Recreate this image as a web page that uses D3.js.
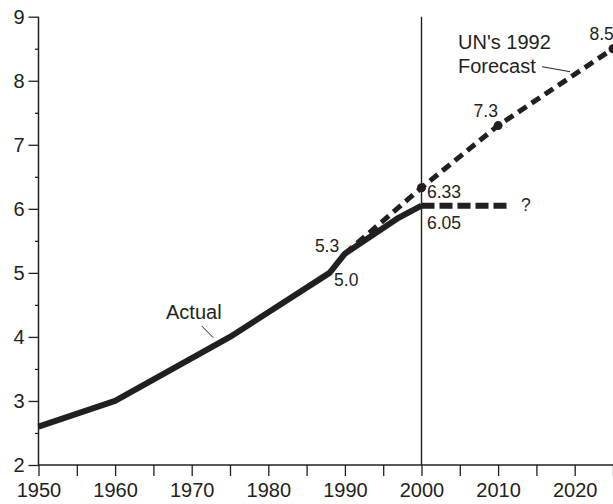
<!DOCTYPE html>
<html>
<head>
<meta charset="utf-8">
<script src="https://cdn.jsdelivr.net/npm/d3@7"></script>
<style>
html,body{margin:0;padding:0;background:#fff;}
svg{display:block;}
text{font-family:"Liberation Sans",Arial,Helvetica,sans-serif;fill:#231f20;}
</style>
</head>
<body>
<svg id="chart" width="613" height="504"></svg>
<script>
// ---- data ----
const actualYears = [1950, 1960, 1975, 1988, 1990, 1997, 2000];
const actualValues = [2.6, 3.0, 4.0, 5.0, 5.3, 5.86, 6.05];
const forecastYears = [1990, 2000, 2010, 2025];
const forecastValues = [5.3, 6.33, 7.3, 8.5];
const forecastDotYears = [2000, 2010, 2025];
const forecastDotValues = [6.33, 7.3, 8.5];
const questionYears = [2000, 2011.7];
const questionValues = [6.05, 6.05];
const xTickValues = [1950,1955,1960,1965,1970,1975,1980,1985,1990,1995,2000,2005,2010,2015,2020,2025];
const xTickLabels = ["1950","","1960","","1970","","1980","","1990","","2000","","2010","","2020",""];
const yMajorTicks = [2,3,4,5,6,7,8,9];
const yMinorTicks = [2.5,3.5,4.5,5.5,6.5,7.5,8.5];
const pointLabelText = ["8.5","7.3","6.33","6.05","5.3","5.0"];
const pointLabelYears = [2025, 2010, 2000, 2000, 1990, 1988];
const pointLabelValues = [8.5, 7.3, 6.33, 6.05, 5.3, 5.0];

// ---- layout ----
const svg = d3.select("#chart");
const ink = "#231f20";
const x = d3.scaleLinear().domain([1950, 2025]).range([38.5, 613]);
const y = d3.scaleLinear().domain([2, 9]).range([465, 16.7]);

// vertical reference line at 2000
svg.append("line")
  .attr("x1", x(2000)).attr("x2", x(2000))
  .attr("y1", y(9)).attr("y2", y(2))
  .attr("stroke", ink).attr("stroke-width", 1.4);

// x axis
const xAxis = d3.axisBottom(x).tickValues(xTickValues)
  .tickFormat((d,i) => xTickLabels[i]).tickSize(11).tickPadding(7);
const gx = svg.append("g").attr("transform", `translate(0,${y(2)})`).call(xAxis);
gx.select(".domain").attr("stroke", ink).attr("stroke-width", 1.5).attr("d", `M${x(1950)},0H613`);
gx.selectAll(".tick line").attr("stroke", ink).attr("stroke-width", 1.3);
gx.selectAll(".tick text").attr("font-size", 20).attr("fill", ink)
  .style("font-family", "'Liberation Sans',Arial,sans-serif");

// y axis major
const yAxis = d3.axisLeft(y).tickValues(yMajorTicks).tickFormat(d3.format("d"))
  .tickSize(10).tickPadding(4);
const gy = svg.append("g").attr("transform", `translate(${x(1950)},0)`).call(yAxis);
gy.select(".domain").attr("stroke", ink).attr("stroke-width", 1.5).attr("d", `M0,${y(2)}V${y(9)}`);
gy.selectAll(".tick line").attr("stroke", ink).attr("stroke-width", 1.3);
gy.selectAll(".tick text").attr("font-size", 20).attr("fill", ink)
  .style("font-family", "'Liberation Sans',Arial,sans-serif");
// y axis minor
const gym = svg.append("g").attr("transform", `translate(${x(1950)},0)`)
  .call(d3.axisLeft(y).tickValues(yMinorTicks).tickFormat("").tickSize(3.5));
gym.select(".domain").remove();
gym.selectAll(".tick line").attr("stroke", ink).attr("stroke-width", 1.3);

const line = d3.line().x(d => x(d[0])).y(d => y(d[1]));

// forecast dashed line (drawn under actual)
svg.append("path")
  .datum(forecastYears.map((yr,i) => [yr, forecastValues[i]]))
  .attr("d", line).attr("fill", "none").attr("stroke", ink)
  .attr("stroke-width", 5).attr("stroke-dasharray", "10,6");

// question dashed line
svg.append("path")
  .datum(questionYears.map((yr,i) => [yr, questionValues[i]]))
  .attr("d", line).attr("fill", "none").attr("stroke", ink)
  .attr("stroke-width", 6).attr("stroke-dasharray", "13,5");

// actual line
svg.append("path")
  .datum(actualYears.map((yr,i) => [yr, actualValues[i]]))
  .attr("d", line).attr("fill", "none").attr("stroke", ink)
  .attr("stroke-width", 6).attr("stroke-linejoin", "round");

// forecast dots
svg.selectAll("circle.fd")
  .data(forecastDotYears.map((yr,i) => [yr, forecastDotValues[i]]))
  .join("circle").attr("class","fd")
  .attr("cx", d => x(d[0])).attr("cy", d => y(d[1])).attr("r", 4.5).attr("fill", ink);

// point labels (offsets in px)
const labelOffsets = [[-23.5,-8.7],[-24.5,-8.6],[5.5,10.5],[5.5,23.5],[-30,-1.7],[4.5,13.5]];
svg.selectAll("text.pl")
  .data(pointLabelText.map((t,i) => ({t, yr: pointLabelYears[i], v: pointLabelValues[i], o: labelOffsets[i]})))
  .join("text").attr("class","pl")
  .attr("x", d => x(d.yr) + d.o[0]).attr("y", d => y(d.v) + d.o[1])
  .attr("font-size", 17.5).text(d => d.t);

// question mark
svg.append("text")
  .attr("x", x(questionYears[1]) + 10).attr("y", y(questionValues[1]) + 5.5)
  .attr("font-size", 17.5).text("?");

// series name labels
svg.append("text").attr("x", 458).attr("y", 49).attr("font-size", 20).text("UN's 1992");
svg.append("text").attr("x", 458).attr("y", 73).attr("font-size", 20).text("Forecast");
svg.append("line").attr("x1", 542).attr("y1", 66.7).attr("x2", 570).attr("y2", 71.7)
  .attr("stroke", ink).attr("stroke-width", 1);

svg.append("text").attr("x", 166).attr("y", 319).attr("font-size", 20).text("Actual");
svg.append("line").attr("x1", 201.7).attr("y1", 326).attr("x2", 213.3).attr("y2", 337.7)
  .attr("stroke", ink).attr("stroke-width", 1);
</script>
</body>
</html>
